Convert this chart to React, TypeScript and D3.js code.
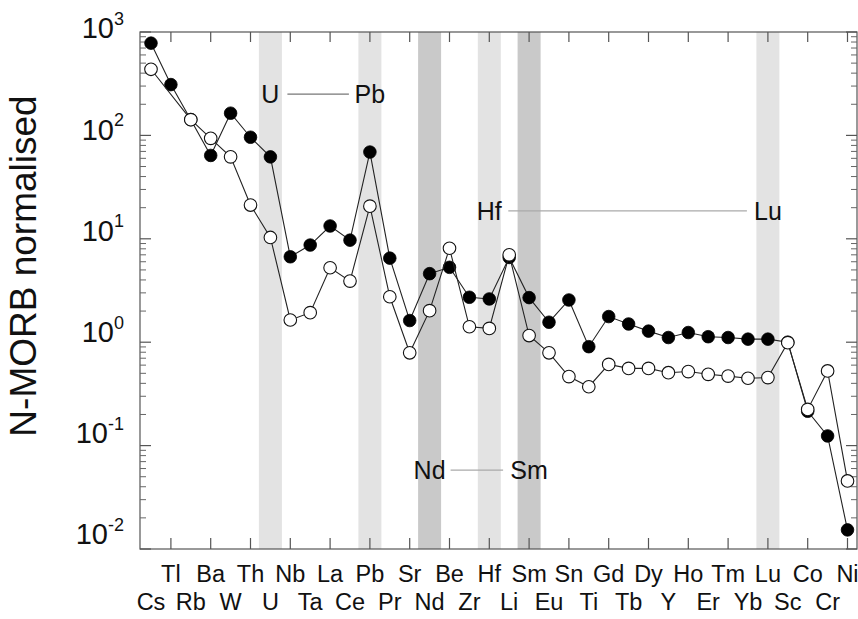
import React from "react";
import * as d3 from "d3";

const categories = ["Cs","Tl","Rb","Ba","W","Th","U","Nb","Ta","La","Ce","Pb","Pr","Sr","Nd","Be","Zr","Hf","Li","Sm","Eu","Sn","Ti","Gd","Tb","Dy","Y","Ho","Er","Tm","Yb","Lu","Sc","Co","Cr","Ni"];

const filledValues: (number | null)[] = [780,310,142,64,164,96,62,6.7,8.7,13.3,9.7,69,6.5,1.62,4.6,5.3,2.72,2.62,6.6,2.7,1.56,2.56,0.905,1.77,1.5,1.28,1.11,1.24,1.13,1.11,1.07,1.07,1.0,0.215,0.124,0.0153];

const openValues: (number | null)[] = [436,null,142,93.7,62,21.2,10.3,1.64,1.93,5.25,3.9,20.7,2.75,0.79,2.02,8.1,1.41,1.36,7.0,1.16,0.79,0.465,0.371,0.61,0.558,0.558,0.507,0.52,0.489,0.47,0.448,0.455,0.99,0.224,0.527,0.0455];

const lightBands = ["U","Pb","Hf","Lu"];
const darkBands = ["Nd","Sm"];

const annotations = [
  { from: "U", to: "Pb", value: 251, w1: 12, w2: 15, color: "#777" },
  { from: "Hf", to: "Lu", value: 18.6, w1: 14, w2: 15, color: "#aaa" },
  { from: "Nd", to: "Sm", value: 0.058, w1: 16, w2: 20, color: "#aaa" },
];

const yTickExponents = [3, 2, 1, 0, -1, -2];
const yLabel = "N-MORB normalised";

const FONT = "'Liberation Sans', Arial, Helvetica, sans-serif";

export default function App() {
  const W = 858, H = 619;
  const left = 140, right = 857, top = 32, bottom = 549;
  const x = d3.scalePoint<string>().domain(categories).range([151, 847.5]);
  const y = d3.scaleLog().domain([0.01, 1000]).range([bottom, top]);
  const yLab = d3.scaleLog().domain([0.01, 1000]).range([534, 28]);

  const minorTicks: number[] = [];
  for (let e = -2; e < 3; e++) for (let m = 2; m <= 9; m++) minorTicks.push(m * Math.pow(10, e));

  const mkLine = (vals: (number | null)[]) => {
    const pts = categories.map((c, i) => [c, vals[i]] as [string, number | null]).filter(d => d[1] != null) as [string, number][];
    const gen = d3.line<[string, number]>().x(d => x(d[0])!).y(d => y(d[1]));
    return { pts, path: gen(pts) || "" };
  };
  const filled = mkLine(filledValues);
  const open = mkLine(openValues);
  const bandW = 23;

  return (
    <svg width={W} height={H} style={{ position: "absolute", left: 0, top: 0, background: "#fff" }} fontFamily={FONT}>
      <rect x={0} y={0} width={W} height={H} fill="#fff" />
      {lightBands.map(b => (
        <rect key={b} x={x(b)! - bandW / 2} y={top} width={bandW} height={bottom - top} fill="#e3e3e3" />
      ))}
      {darkBands.map(b => (
        <rect key={b} x={x(b)! - bandW / 2} y={top} width={bandW} height={bottom - top} fill="#c9c9c9" />
      ))}
      <rect x={left} y={top} width={right - left} height={bottom - top} fill="none" stroke="#555" strokeWidth={1.2} />
      {categories.map((c, i) => i % 2 === 1 ? (
        <g key={c}>
          <line x1={x(c)} x2={x(c)} y1={top} y2={top + 10} stroke="#555" strokeWidth={1.2} />
          <line x1={x(c)} x2={x(c)} y1={bottom} y2={bottom - 11} stroke="#555" strokeWidth={1.2} />
        </g>
      ) : null)}
      {yTickExponents.map(e => (
        <g key={e}>
          <line x1={left} x2={left + 11} y1={y(Math.pow(10, e))} y2={y(Math.pow(10, e))} stroke="#555" strokeWidth={1.2} />
          <line x1={right} x2={right - 11} y1={y(Math.pow(10, e))} y2={y(Math.pow(10, e))} stroke="#555" strokeWidth={1.2} />
        </g>
      ))}
      {minorTicks.map((v, i) => (
        <g key={i}>
          <line x1={left} x2={left + 6} y1={y(v)} y2={y(v)} stroke="#666" strokeWidth={1} />
          <line x1={right} x2={right - 6} y1={y(v)} y2={y(v)} stroke="#666" strokeWidth={1} />
        </g>
      ))}
      {yTickExponents.map(e => (
        <text key={e} x={124} y={yLab(Math.pow(10, e))} dy="0.36em" textAnchor="end" fontSize={29} fill="#111">
          10<tspan fontSize={18} dy="-0.75em">{e}</tspan>
        </text>
      ))}
      <text transform={`translate(23,266) rotate(-90)`} textAnchor="middle" dominantBaseline="central" fontSize={37} fill="#111">{yLabel}</text>
      {categories.map((c, i) => (
        <text key={c} x={x(c)} y={i % 2 === 1 ? 582 : 610} textAnchor="middle" fontSize={23.5} fill="#111">{c}</text>
      ))}
      {annotations.map(a => {
        const yy = y(a.value);
        const x1 = x(a.from)!, x2 = x(a.to)!;
        return (
          <g key={a.from}>
            <text x={x1} y={yy} dy="0.36em" textAnchor="middle" fontSize={25} fill="#111">{a.from}</text>
            <line x1={x1 + a.w1 + 5} x2={x2 - a.w2 - 6} y1={yy} y2={yy} stroke={a.color} strokeWidth={1.2} />
            <text x={x2} y={yy} dy="0.36em" textAnchor="middle" fontSize={25} fill="#111">{a.to}</text>
          </g>
        );
      })}
      <path d={filled.path} fill="none" stroke="#222" strokeWidth={1.1} />
      {filled.pts.map(d => (
        <circle key={"f" + d[0]} cx={x(d[0])} cy={y(d[1])} r={6.3} fill="#000" stroke="#000" strokeWidth={0.8} />
      ))}
      <path d={open.path} fill="none" stroke="#222" strokeWidth={1.1} />
      {open.pts.map(d => (
        <circle key={"o" + d[0]} cx={x(d[0])} cy={y(d[1])} r={6.3} fill="#fff" stroke="#111" strokeWidth={1.1} />
      ))}
    </svg>
  );
}
